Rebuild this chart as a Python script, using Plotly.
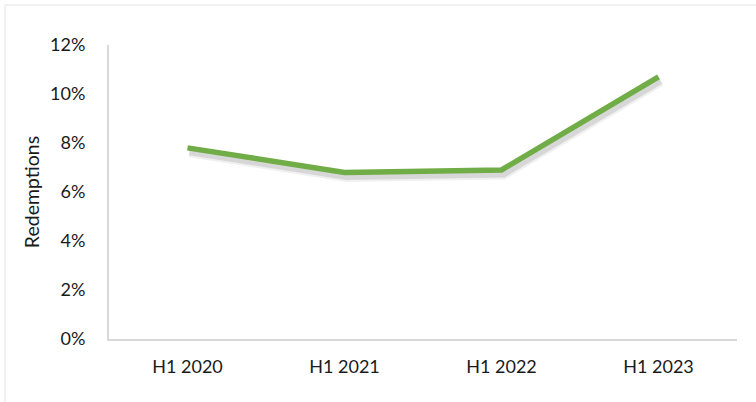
import plotly.graph_objects as go

categories = ["H1 2020", "H1 2021", "H1 2022", "H1 2023"]
redemptions = [0.078, 0.068, 0.069, 0.107]
y_ticks = [0, 0.02, 0.04, 0.06, 0.08, 0.10, 0.12]

GREEN = "#70AD47"
FONT = "Lato"
TXT = "#1a1a1a"

fig = go.Figure()
# soft shadow on the base axes (slightly shifted ranges), drawn underneath
fig.add_trace(go.Scatter(x=categories, y=redemptions, mode="lines",
                         line=dict(color="rgba(0,0,0,0.06)", width=11),
                         xaxis="x", yaxis="y", hoverinfo="skip", showlegend=False))
fig.add_trace(go.Scatter(x=categories, y=redemptions, mode="lines",
                         line=dict(color="rgba(0,0,0,0.10)", width=7),
                         xaxis="x", yaxis="y", hoverinfo="skip", showlegend=False))
# main line on the visible overlay axes
fig.add_trace(go.Scatter(x=categories, y=redemptions, mode="lines",
                         line=dict(color=GREEN, width=5.5),
                         xaxis="x2", yaxis="y2", showlegend=False))

W, H = 756, 402
L, R, T, B = 109, 19, 45, 63
dy = 0.12 * 4 / (H - T - B)
dx = 4 * 2 / (W - L - R)

fig.update_layout(
    width=W, height=H,
    margin=dict(l=L, r=R, t=T, b=B),
    paper_bgcolor="white", plot_bgcolor="white",
    font=dict(family=FONT, size=18, color=TXT),
    xaxis=dict(type="category", range=[-0.5 - dx, 3.5 - dx], visible=False),
    yaxis=dict(range=[dy, 0.12 + dy], visible=False),
    xaxis2=dict(type="category", range=[-0.5, 3.5], overlaying="x", side="bottom",
                showgrid=False, showline=True, linecolor="#d9d9d9", linewidth=2,
                ticks="", ticklabelstandoff=10, zeroline=False),
    yaxis2=dict(range=[0, 0.12], tickvals=y_ticks, tickformat=".0%",
                overlaying="y", side="left",
                showgrid=False, showline=True, linecolor="#d9d9d9", linewidth=2,
                ticks="", ticklabelstandoff=18, zeroline=False,
                title=dict(text="Redemptions", standoff=5,
                           font=dict(family=FONT, size=19.5, color=TXT))),
    shapes=[
        dict(type="line", xref="paper", yref="paper",
             x0=(5 - L) / (W - L - R), x1=(W - L) / (W - L - R),
             y0=(H - 5 - B) / (H - T - B), y1=(H - 5 - B) / (H - T - B),
             line=dict(color="#ededed", width=1.5)),
        dict(type="line", xref="paper", yref="paper",
             x0=(5 - L) / (W - L - R), x1=(5 - L) / (W - L - R),
             y0=(H - 5 - B) / (H - T - B), y1=-B / (H - T - B),
             line=dict(color="#ededed", width=1.5)),
    ],
)

fig.write_html("out.html", config={"displayModeBar": False},
               post_script="document.body.style.margin='0';document.body.style.overflow='hidden';")
